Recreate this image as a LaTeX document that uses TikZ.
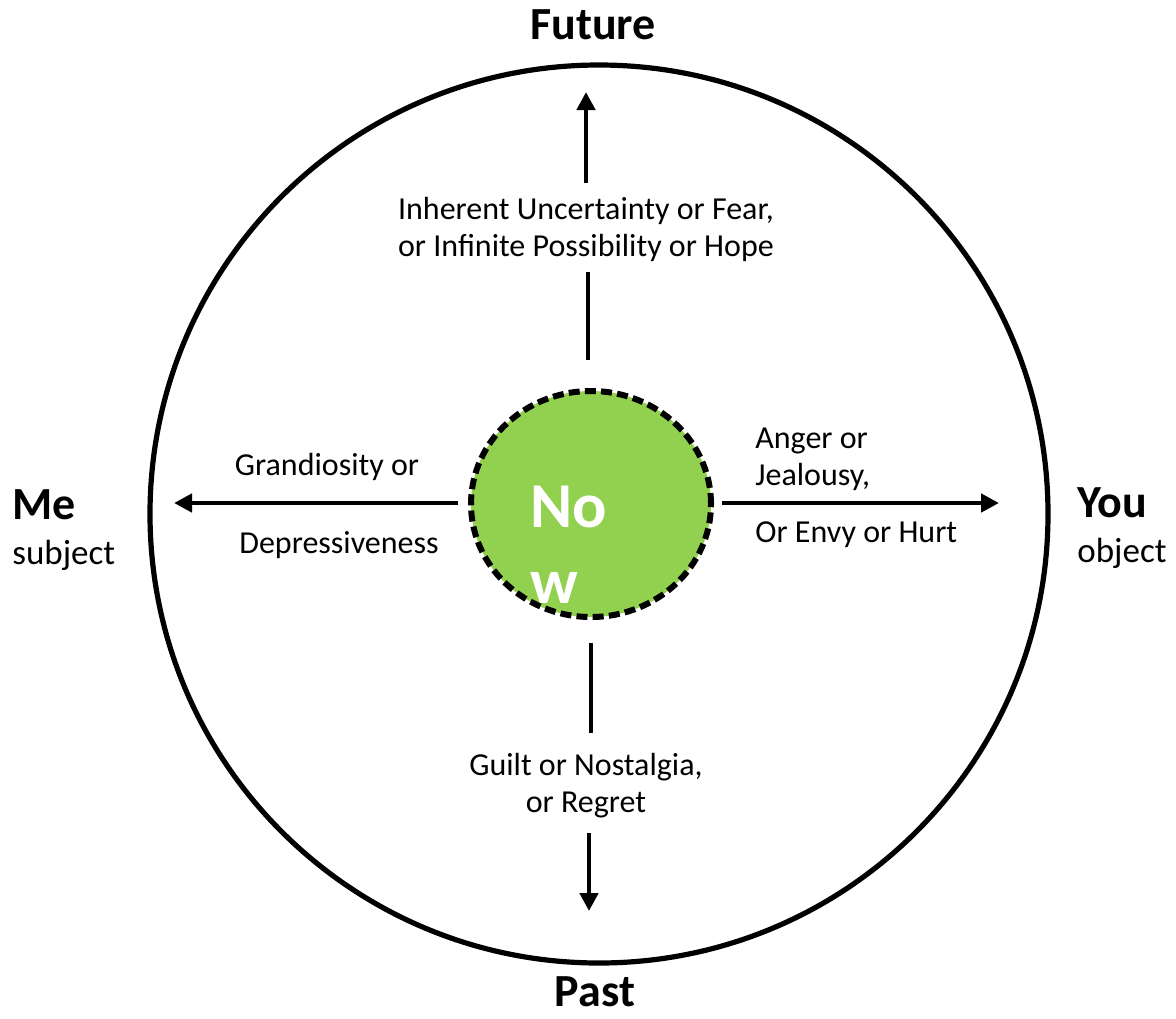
\documentclass[tikz,border=0pt]{standalone}
\usepackage{fontspec}
\setmainfont{Carlito}
\usetikzlibrary{arrows.meta}
\definecolor{nowgreen}{HTML}{92D050}
\tikzset{
  axis/.style={line width=2.3pt},
  lbl/.style={font=\fontsize{16}{18.5}\selectfont,inner sep=0pt,align=center},
  pole/.style={font=\fontsize{23}{26}\selectfont\bfseries,inner sep=0pt},
  role/.style={font=\fontsize{17.5}{20}\selectfont,inner sep=0pt}
}
\begin{document}
\begin{tikzpicture}[x=.5pt,y=-.5pt,>={Triangle[width=9pt,length=9pt]}]
  \useasboundingbox (0,0) rectangle (1176,1018);
  \coordinate (o) at (599,514);
  \draw[line width=2.6pt] (o) circle[radius=224.5pt];
  % the now circle
  \coordinate (n) at (591,504);
  \draw[fill=nowgreen,line width=3pt,dash pattern=on 5.5pt off 2.6pt] (n) ellipse[x radius=60pt,y radius=56.5pt];
  \node[anchor=base west,font=\fontsize{32}{38}\selectfont\bfseries,text=white,inner sep=0pt] (now1) at (530,527) {No};
  \node[anchor=base west,font=\fontsize{32}{38}\selectfont\bfseries,text=white,inner sep=0pt] (now2) at (530,603) {w};
  % future
  \coordinate (fa) at (588,360);
  \coordinate (fb) at (588,272);
  \coordinate (fc) at (586,183);
  \coordinate (fd) at (586,92);
  \draw[axis] (fa)--(fb);
  \draw[axis,->] (fc)--(fd);
  \node[lbl] (futtxt) at (586,229) {Inherent Uncertainty or Fear,\\or Infinite Possibility or Hope};
  % past
  \coordinate (pa) at (591,643);
  \coordinate (pb) at (591,733);
  \coordinate (pc) at (589,833);
  \coordinate (pd) at (589,911);
  \draw[axis] (pa)--(pb);
  \draw[axis,->] (pc)--(pd);
  \node[lbl] (pasttxt) at (586,786) {Guilt or Nostalgia,\\or Regret};
  % me
  \coordinate (ma) at (458,503);
  \coordinate (mb) at (174,503);
  \draw[axis,->] (ma)--(mb);
  \node[lbl] (metxt1) at (327,467) {Grandiosity or};
  \node[lbl] (metxt2) at (339,545) {Depressiveness};
  % you
  \coordinate (ya) at (722,503);
  \coordinate (yb) at (999,503);
  \draw[axis,->] (ya)--(yb);
  \node[lbl,align=left,anchor=west] (youtxt1) at (755,459) {Anger or\\Jealousy,};
  \node[lbl,anchor=west] (youtxt2) at (755,535) {Or Envy or Hurt};
  % poles
  \node[pole] (future) at (593,25) {Future};
  \node[pole] (past) at (595,992) {Past};
  \node[pole,anchor=west] (me) at (12,505) {Me};
  \node[role,anchor=west] (subj) at (12,555) {subject};
  \node[pole,anchor=west] (you) at (1077,503) {You};
  \node[role,anchor=west] (obj) at (1077,553) {object};
\end{tikzpicture}
\end{document}
